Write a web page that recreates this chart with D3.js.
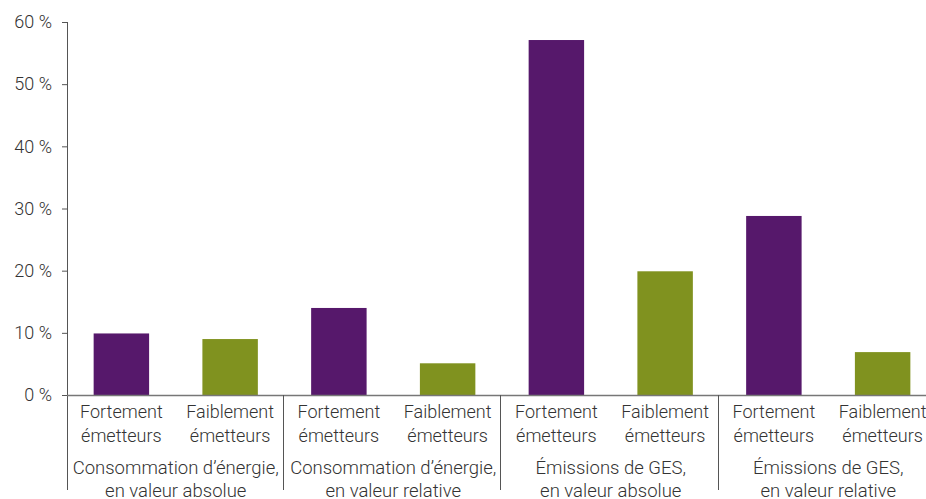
<!DOCTYPE html>
<html><head><meta charset="utf-8">
<script src="https://cdn.jsdelivr.net/npm/d3@7"></script>
<style>body{margin:0;background:#fff}svg{display:block}text{font-family:Roboto,"Liberation Sans",sans-serif;font-weight:300;fill:#333}</style>
</head><body>
<svg id="c" width="926" height="499"></svg>
<script>
const groups = ["Consommation d’énergie,\nen valeur absolue","Consommation d’énergie,\nen valeur relative","Émissions de GES,\nen valeur absolue","Émissions de GES,\nen valeur relative"];
const subs = ["Fortement\németteurs","Faiblement\németteurs"];
const fortement = [9.9, 14.0, 57.1, 28.8];
const faiblement = [9.0, 5.1, 19.9, 6.9];
const yTicks = [0,10,20,30,40,50,60];
const colors = ["#56186b","#80921f"];

const svg = d3.select("#c");
const rows = [];
groups.forEach((g,i)=>{
  rows.push({key:i+"-0", g:i, s:0, v:fortement[i]});
  rows.push({key:i+"-1", g:i, s:1, v:faiblement[i]});
});
const x = d3.scaleBand().domain(rows.map(d=>d.key)).range([67,937]).paddingInner(0.49).paddingOuter(0.245);
const y = d3.scaleLinear().domain([0,60]).range([395,22]);
const step = x.step();

// bars
svg.selectAll("rect.bar").data(rows).join("rect")
  .attr("x",d=>x(d.key)).attr("width",x.bandwidth())
  .attr("y",d=>y(d.v)).attr("height",d=>y(0)-y(d.v))
  .attr("fill",d=>colors[d.s]);

// y axis
const ya = svg.append("g").attr("transform","translate(67,0)")
  .call(d3.axisLeft(y).tickValues(yTicks).tickSize(5).tickPadding(10).tickFormat(d=>d+" %"));
ya.select(".domain").remove();
ya.selectAll("line").attr("stroke","#555");
ya.selectAll("text").attr("font-size",18).style("font-family","Roboto, sans-serif").style("font-weight",300).attr("fill","#333");
svg.append("line").attr("x1",67.5).attr("x2",67.5).attr("y1",y(60)).attr("y2",490).attr("stroke","#555");
svg.append("line").attr("x1",67).attr("x2",926).attr("y1",395.5).attr("y2",395.5).attr("stroke","#777").attr("stroke-width",1.5);

// group separators
groups.forEach((g,i)=>{
  if(i>0){
    const gx = Math.round(x(i+"-0") - (step - x.bandwidth())/2) - 1.5;
    svg.append("line").attr("x1",gx).attr("x2",gx).attr("y1",395).attr("y2",490).attr("stroke","#555");
  }
});

// sub labels
rows.forEach(d=>{
  const cx = x(d.key)+x.bandwidth()/2;
  const t = svg.append("text").attr("text-anchor","middle").attr("font-size",18);
  subs[d.s].split("\n").forEach((ln,j)=>t.append("tspan").attr("x",cx).attr("y",418+j*24).text(ln));
});
// group labels
groups.forEach((g,i)=>{
  const cx = (x(i+"-0")+x(i+"-1")+x.bandwidth())/2;
  const t = svg.append("text").attr("text-anchor","middle").attr("font-size",18.5);
  g.split("\n").forEach((ln,j)=>t.append("tspan").attr("x",cx).attr("y",474+j*23).text(ln));
});
</script>
</body></html>
